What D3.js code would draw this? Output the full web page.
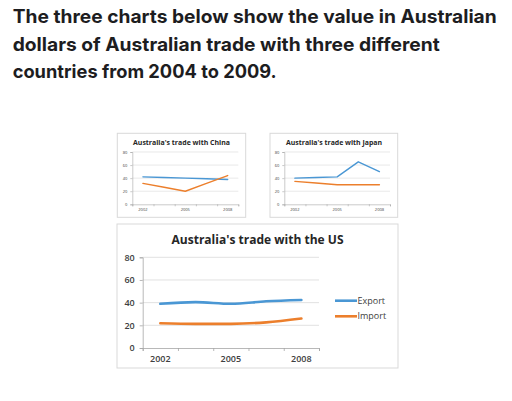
<!DOCTYPE html>
<html>
<head>
<meta charset="utf-8">
<script src="https://cdn.jsdelivr.net/npm/d3@7"></script>
<style>
  body { margin: 0; background: #fff; }
  svg { display: block; }
</style>
</head>
<body>
<svg id="chart" width="512" height="401"></svg>
<script>
// categories (Excel shows every other label)
const categories = ["2002", "2003.5", "2005", "2006.5", "2008"];
const tickLabels = ["2002", "2005", "2008"];
const yTicks = [0, 20, 40, 60, 80];

const chinaExport = [42, 41, 40, 39, 38];
const chinaImport = [32, 26, 20, 32, 44];
const japanExport = [40, 41, 42, 65, 50];
const japanImport = [35, 32.5, 30, 30, 30];
const usExport = [39, 40.5, 39, 41.2, 42.4];
const usImport = [21.8, 21.3, 21.3, 22.6, 26];

const seriesNames = ["Export", "Import"];
const headingLines = [
  "The three charts below show the value in Australian",
  "dollars of Australian trade with three different",
  "countries from 2004 to 2009."
];

const blue = "#4a97d4";
const orange = "#ec7f2c";

const svg = d3.select("#chart");

// heading
const headingWidths = [484, 427, 264];
svg.selectAll(".heading")
  .data(headingLines)
  .join("text")
  .attr("class", "heading")
  .attr("x", 12.7)
  .attr("y", (d, i) => 23.3 + i * 27.5)
  .attr("textLength", (d, i) => headingWidths[i])
  .attr("lengthAdjust", "spacingAndGlyphs")
  .style("font-family", "Inter, 'Liberation Sans', sans-serif")
  .style("font-weight", 700)
  .style("font-size", "18.5px")
  .style("fill", "#1d1d1f")
  .text(d => d);

function drawPanel(opts) {
  const g = svg.append("g");
  const box = opts.box;

  g.append("rect")
    .attr("x", box.x).attr("y", box.y)
    .attr("width", box.w).attr("height", box.h)
    .attr("fill", "#fff")
    .attr("stroke", "#d9d9d9")
    .attr("stroke-width", 1);

  g.append("text")
    .attr("x", opts.titleX)
    .attr("y", opts.titleY)
    .attr("text-anchor", "middle")
    .attr("textLength", opts.titleW)
    .attr("lengthAdjust", "spacingAndGlyphs")
    .style("font-family", "'Open Sans', 'DejaVu Sans', sans-serif")
    .style("font-weight", 700)
    .style("font-size", opts.titleSize + "px")
    .style("fill", "#262626")
    .text(opts.title);

  const p = opts.plot;
  const x = d3.scaleBand().domain(categories).range([p.x0, p.x1]).padding(0);
  const xEdges = d3.scaleLinear().domain([0, categories.length]).range([p.x0, p.x1]);
  const y = d3.scaleLinear().domain([0, 80]).range([p.y1, p.y0]);

  // gridlines
  g.append("g")
    .selectAll("line")
    .data(yTicks.filter(t => t > 0))
    .join("line")
    .attr("x1", p.x0).attr("x2", p.x1)
    .attr("y1", d => y(d)).attr("y2", d => y(d))
    .attr("stroke", "#d9d9d9")
    .attr("stroke-width", opts.gridW);

  // y axis
  const yAxis = g.append("g")
    .attr("transform", `translate(${p.x0},0)`)
    .call(d3.axisLeft(y).tickValues(yTicks).tickSize(opts.tickLen).tickPadding(opts.tickPad));
  // x axis labels
  const xAxis = g.append("g")
    .attr("transform", `translate(0,${p.y1})`)
    .call(d3.axisBottom(x).tickValues(tickLabels).tickSize(0).tickPadding(opts.xPad));
  // x tick marks at category edges
  const xMarks = g.append("g")
    .attr("transform", `translate(0,${p.y1})`)
    .call(d3.axisBottom(xEdges).tickValues(d3.range(categories.length + 1)).tickSize(opts.tickLen).tickFormat(""));

  [yAxis, xAxis, xMarks].forEach(a => {
    a.select(".domain").attr("stroke", "#a6a6a6").attr("stroke-width", opts.axisW);
    a.selectAll(".tick line").attr("stroke", "#a6a6a6").attr("stroke-width", opts.axisW);
    a.selectAll("text")
      .style("font-family", "'Open Sans', 'DejaVu Sans', sans-serif")
      .style("font-size", opts.tickSize + "px")
      .style("font-weight", opts.tickWeight)
      .style("fill", "#404040");
  });
  xAxis.select(".domain").remove();

  const line = d3.line()
    .x((d, i) => x(categories[i]) + x.bandwidth() / 2)
    .y(d => y(d))
    .curve(opts.curve);

  const series = [opts.exportVals, opts.importVals];
  g.append("g")
    .selectAll("path")
    .data(series)
    .join("path")
    .attr("d", d => line(d))
    .attr("fill", "none")
    .attr("stroke", (d, i) => i === 0 ? blue : orange)
    .attr("stroke-width", opts.lineW)
    .attr("stroke-linecap", "round")
    .attr("stroke-linejoin", "round");

  if (opts.legend) {
    const lg = g.append("g")
      .selectAll("g")
      .data(seriesNames)
      .join("g")
      .attr("transform", (d, i) => `translate(${opts.legend.x},${opts.legend.y + i * opts.legend.dy})`);
    lg.append("line")
      .attr("x1", 0).attr("x2", 22)
      .attr("stroke", (d, i) => i === 0 ? blue : orange)
      .attr("stroke-width", opts.lineW);
    lg.append("text")
      .attr("x", 22.5)
      .attr("dy", "0.35em")
      .style("font-family", "'Open Sans', 'DejaVu Sans', sans-serif")
      .style("font-size", "9px")
      .style("fill", "#404040")
      .text(d => d);
  }
}

const smallOpts = {
  titleSize: 6.3, tickSize: 4, tickWeight: 400, tickLen: 2, tickPad: 3, xPad: 4,
  lineW: 1.4, gridW: 0.6, axisW: 0.6, curve: d3.curveLinear
};

drawPanel(Object.assign({}, smallOpts, {
  box: { x: 117.3, y: 133.3, w: 128.4, h: 84 },
  title: "Australia's trade with China", titleX: 181.5, titleY: 145, titleW: 97,
  plot: { x0: 132.3, x1: 238.3, y0: 152, y1: 204.3 },
  exportVals: chinaExport, importVals: chinaImport
}));

drawPanel(Object.assign({}, smallOpts, {
  box: { x: 270, y: 133.3, w: 127.7, h: 84 },
  title: "Australia's trade with Japan", titleX: 334, titleY: 145, titleW: 96,
  plot: { x0: 284.3, x1: 390, y0: 152, y1: 204.3 },
  exportVals: japanExport, importVals: japanImport
}));

drawPanel({
  box: { x: 117, y: 224, w: 281, h: 144 },
  title: "Australia's trade with the US", titleX: 257.5, titleY: 244, titleW: 172, titleSize: 13,
  plot: { x0: 142.7, x1: 319, y0: 257.3, y1: 348 },
  tickSize: 9, tickWeight: 600, tickLen: 3, tickPad: 5, xPad: 8,
  lineW: 2.6, gridW: 0.8, axisW: 0.8, curve: d3.curveMonotoneX,
  exportVals: usExport, importVals: usImport,
  legend: { x: 335, y: 300.7, dy: 15.6 }
});
</script>
</body>
</html>
